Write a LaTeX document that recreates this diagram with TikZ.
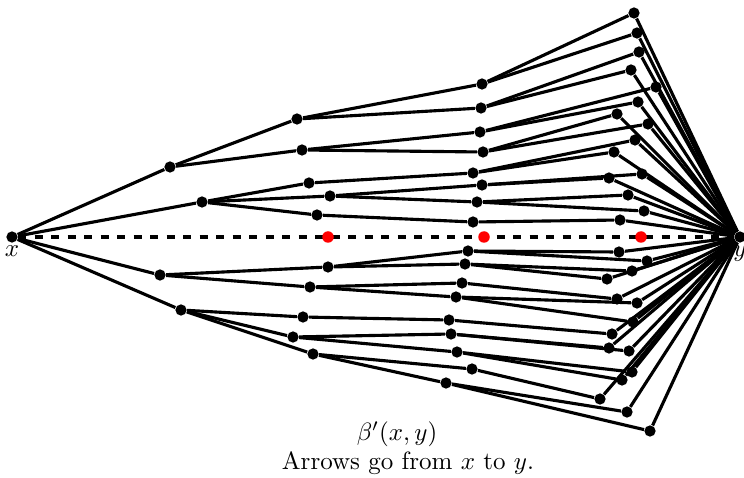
\documentclass[tikz,border=0pt]{standalone}
\begin{document}
\begin{tikzpicture}[x=0.4pt,y=-0.4pt,
  dot/.style={circle,fill=black,inner sep=0pt,minimum size=4.5pt},
  reddot/.style={circle,fill=red,inner sep=0pt,minimum size=4.6pt},
  edge/.style={line width=1.25pt},
  dashline/.style={line width=1.25pt,dash pattern=on 3.3pt off 3.3pt}]
\useasboundingbox (0,0) rectangle (744,478);
% end points
\node[dot,label={[inner sep=1pt]below:$x$}] (x) at (12,237) {};
\node[dot,label={[inner sep=1pt]below:$y$}] (y) at (740,237) {};
% level 1
\node[dot] (a1) at (170,167) {};
\node[dot] (a2) at (202,202) {};
\node[dot] (a3) at (160,275) {};
\node[dot] (a4) at (181,310) {};
% level 2
\node[dot] (b1) at (297,119) {};
\node[dot] (b2) at (302,150) {};
\node[dot] (b3) at (309,183) {};
\node[dot] (b4) at (330,196) {};
\node[dot] (b5) at (317,215) {};
\node[dot] (b6) at (328,267) {};
\node[dot] (b7) at (310,287) {};
\node[dot] (b8) at (303,317) {};
\node[dot] (b9) at (293,337) {};
\node[dot] (b10) at (313,354) {};
% level 3
\node[dot] (c1) at (482,84) {};
\node[dot] (c2) at (481,108) {};
\node[dot] (c3) at (480,132) {};
\node[dot] (c4) at (483,152) {};
\node[dot] (c5) at (473,173) {};
\node[dot] (c6) at (482,185) {};
\node[dot] (c7) at (477,202) {};
\node[dot] (c8) at (473,222) {};
\node[dot] (c9) at (468,251) {};
\node[dot] (c10) at (465,264) {};
\node[dot] (c11) at (462,283) {};
\node[dot] (c12) at (456,297) {};
\node[dot] (c13) at (449,320) {};
\node[dot] (c14) at (451,334) {};
\node[dot] (c15) at (457,352) {};
\node[dot] (c16) at (472,369) {};
\node[dot] (c17) at (446,383) {};
% level 4
\node[dot] (d1) at (634,13) {};
\node[dot] (d2) at (637,33) {};
\node[dot] (d3) at (639,52) {};
\node[dot] (d4) at (631,70) {};
\node[dot] (d5) at (656,87) {};
\node[dot] (d6) at (638,102) {};
\node[dot] (d7) at (617,114) {};
\node[dot] (d8) at (648,124) {};
\node[dot] (d9) at (635,140) {};
\node[dot] (d10) at (614,152) {};
\node[dot] (d11) at (609,178) {};
\node[dot] (d12) at (642,174) {};
\node[dot] (d13) at (628,195) {};
\node[dot] (d14) at (644,211) {};
\node[dot] (d15) at (620,220) {};
\node[dot] (d16) at (619,252) {};
\node[dot] (d17) at (647,261) {};
\node[dot] (d18) at (632,271) {};
\node[dot] (d19) at (607,279) {};
\node[dot] (d20) at (617,299) {};
\node[dot] (d21) at (637,303) {};
\node[dot] (d22) at (633,322) {};
\node[dot] (d23) at (612,334) {};
\node[dot] (d24) at (609,348) {};
\node[dot] (d25) at (629,351) {};
\node[dot] (d26) at (632,372) {};
\node[dot] (d27) at (622,380) {};
\node[dot] (d28) at (600,399) {};
\node[dot] (d29) at (627,412) {};
\node[dot] (d30) at (650,431) {};
% dashed line and red points
\draw[dashline] (x) -- (y);
\node[reddot] (r1) at (328,237) {};
\node[reddot] (r2) at (484,237) {};
\node[reddot] (r3) at (641,237) {};
% edges
\foreach \s/\t in {x/a1,x/a2,x/a3,x/a4,
  a1/b1,a1/b2,a2/b3,a2/b4,a2/b5,a3/b6,a3/b7,a4/b8,a4/b9,a4/b10,
  b1/c1,b1/c2,b2/c3,b2/c4,b3/c5,b4/c6,b4/c7,b5/c8,b6/c9,b6/c10,
  b7/c11,b7/c12,b8/c13,b9/c14,b9/c15,b10/c16,b10/c17,
  c1/d1,c1/d2,c2/d3,c2/d4,c3/d5,c3/d6,c4/d7,c4/d8,c5/d9,c5/d10,
  c6/d11,c6/d12,c7/d13,c7/d14,c8/d15,c9/d16,c9/d17,c10/d18,c10/d19,
  c11/d20,c12/d21,c12/d22,c13/d23,c14/d24,c14/d25,c15/d26,c15/d27,
  c16/d28,c17/d29,c17/d30}
  \draw[edge] (\s) -- (\t);
\foreach \i in {1,...,30}
  \draw[edge] (d\i) -- (y);
% captions
\node (cap1) at (397,434) {$\beta'(x,y)$};
\node (cap2) at (408,463) {Arrows go from $x$ to $y$.};
\end{tikzpicture}
\end{document}
